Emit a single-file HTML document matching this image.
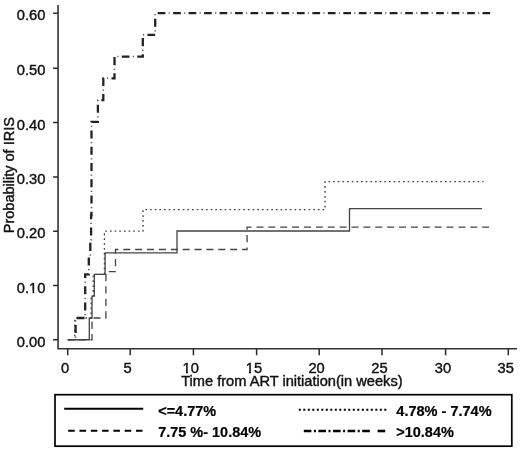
<!DOCTYPE html>
<html><head><meta charset="utf-8">
<title>Probability of IRIS</title>
<style>
html,body{margin:0;padding:0;background:#fff;}
body{width:520px;height:450px;overflow:hidden;}
svg{display:block;}
text{font-family:"Liberation Sans",Arial,sans-serif;fill:#111;}
.t{font-size:14px;stroke:#111;stroke-width:0.4px;}
.b{font-size:14.3px;font-weight:bold;fill:#000;stroke:#000;stroke-width:0.2px;}
</style></head><body>
<svg width="520" height="450" viewBox="0 0 520 450">
<rect width="520" height="450" fill="#fff"/>
<!-- axes -->
<g stroke="#333" stroke-width="1.6" fill="none" stroke-linejoin="round">
<path d="M58.05,4.9 V348.8 H517"/>
<path stroke="#2a2a2a" stroke-width="1.5" d="M53.1,13.3 H58 M53.1,68.2 H58 M53.1,122.6 H58 M53.1,176.9 H58 M53.1,231.2 H58 M53.1,285.6 H58 M53.1,339.7 H58"/>
<path stroke="#2a2a2a" stroke-width="1.5" d="M67.7,348.8 V355.2 M130.2,348.8 V355.2 M193.4,348.8 V355.2 M256.6,348.8 V355.2 M319.2,348.8 V355.2 M382.0,348.8 V355.2 M445.6,348.8 V355.2 M508.3,348.8 V355.2"/>
</g>
<!-- y labels -->
<g class="t">
<text transform="translate(45.4,20.40) scale(1.05,1)" text-anchor="end">0.60</text>
<text transform="translate(45.4,75.30) scale(1.05,1)" text-anchor="end">0.50</text>
<text transform="translate(45.4,129.70) scale(1.05,1)" text-anchor="end">0.40</text>
<text transform="translate(45.4,184.00) scale(1.05,1)" text-anchor="end">0.30</text>
<text transform="translate(45.4,238.30) scale(1.05,1)" text-anchor="end">0.20</text>
<text transform="translate(45.4,292.70) scale(1.05,1)" text-anchor="end">0.10</text>
<text transform="translate(45.4,346.80) scale(1.05,1)" text-anchor="end">0.00</text>
</g>
<!-- x labels -->
<g class="t">
<text transform="translate(65.10,373) scale(1.05,1)" text-anchor="middle">0</text>
<text transform="translate(127.60,373) scale(1.05,1)" text-anchor="middle">5</text>
<text transform="translate(190.80,373) scale(1.05,1)" text-anchor="middle">10</text>
<text transform="translate(254.00,373) scale(1.05,1)" text-anchor="middle">15</text>
<text transform="translate(316.60,373) scale(1.05,1)" text-anchor="middle">20</text>
<text transform="translate(379.40,373) scale(1.05,1)" text-anchor="middle">25</text>
<text transform="translate(443.00,373) scale(1.05,1)" text-anchor="middle">30</text>
<text transform="translate(505.70,373) scale(1.05,1)" text-anchor="middle">35</text>
</g>
<g fill="#fff"><rect x="181.6" y="370.7" width="4.4" height="3.2"/><rect x="188" y="370.7" width="2.4" height="3.2"/>
<rect x="245.4" y="370.7" width="3.6" height="3.2"/><rect x="251" y="370.7" width="3" height="3.2"/>
<rect x="28.7" y="290.7" width="3.8" height="3.2"/><rect x="34.3" y="290.7" width="2.7" height="3.2"/></g>
<text class="t" transform="translate(181.2,385.5) scale(1.045,1)">Time from ART initiation(in weeks)</text>
<text class="t" transform="translate(13.5,233.2) rotate(-90) scale(1.036,1)">Probability of IRIS</text>
<!-- curves -->
<g fill="none" stroke="#444" stroke-width="1.3">
<path d="M67.5,339.75 H89.3 V318 H92 V296.2 H94.3 V274.4 H105.1 V252.8 H177 V231 H349.5 V208.6 H482"/>
<path stroke-dasharray="0.00 0.96 1.70 2.96 1.72 3.11 1.79 3.11 1.79 3.11 1.79 3.11 1.78 3.04 1.70 2.96 1.70 2.96 1.70 2.96 1.73 3.11 1.79 3.11 1.79 3.11 1.79 3.11 1.78 3.03 1.76 3.11 1.78 3.11 1.79 3.11 1.79 3.11 1.78 3.01 1.70 2.96 1.70 2.96 1.79 3.11 1.78 3.11 1.78 3.11 1.79 3.11 1.78 3.11 1.78 3.11 1.78 3.11 1.78 3.11 1.78 3.06 1.70 2.96 1.70 2.96 1.70 2.96 1.70 2.96 1.70 2.96 1.70 2.96 1.70 2.96 1.70 2.96 1.76 3.11 1.78 3.11 1.78 3.11 1.78 3.11 1.78 2.99 1.70 2.96 1.70 2.96 1.70 2.96 1.70 2.96 1.70 2.96 1.70 2.96 1.70 2.96 1.70 2.96 1.70 2.96 1.70 2.96 1.70 2.96 1.70 2.96 1.70 2.96 1.70 2.96 1.70 2.96 1.70 2.96 1.70 2.96 1.70 2.96 1.70 2.96 1.70 2.96 1.70 2.96 1.70 2.96 1.70 2.96 1.70 2.96 1.70 2.96 1.70 2.96 1.70 2.96 1.70 2.96 1.70 2.96 1.70 2.96 1.70 2.96 1.70 2.96 1.70 2.96 1.70 2.96 1.70 2.96 1.70 2.96 1.70 2.96 1.70 2.96 1.70 3.07 1.78 3.11 1.78 3.11 1.78 3.11 1.78 3.11 1.78 3.11 1.76 2.96 1.70 2.96 1.70 2.96 1.70 2.96 1.70 2.96 1.70 2.96 1.70 2.96 1.70 2.96 1.70 2.96 1.70 2.96 1.70 2.96 1.70 2.96 1.70 2.96 1.70 2.96 1.70 2.96 1.70 2.96 1.70 2.96 1.70 2.96 1.70 2.96 1.70 2.96 1.70 2.96 1.70 2.96 1.70 2.96 1.70 2.96 1.70 2.96 1.70 2.96 1.70 2.96 1.70 2.96 1.70 2.96 1.70 2.96 1.70 2.96 1.70 2.96 1.70 2.96 1.70 2.96 6.30 0.01" d="M67.9,339.75 H74.8 V318 H91.1 V296.2 H93.2 V274.4 H104.4 V231.2 H143 V209.7 H325 V181.7 H483.5"/>
<path stroke-dasharray="5.79 4.88 7.00 4.88 7.27 5.12 7.35 5.05 7.00 4.88 7.32 5.12 7.35 5.12 7.35 5.12 7.35 4.98 7.02 5.12 7.35 5.12 7.20 4.88 7.00 4.88 7.00 4.88 7.00 4.88 7.00 4.88 7.00 4.88 7.00 4.88 7.00 4.88 7.00 4.88 7.00 4.88 7.00 4.88 7.10 5.12 7.35 5.12 7.12 4.88 7.00 4.88 7.00 4.88 7.00 4.88 7.00 4.88 7.00 4.88 7.00 4.88 7.00 4.88 7.00 4.88 7.00 4.88 7.00 4.88 7.00 4.88 7.00 4.88 7.00 4.88 7.00 4.88 7.00 4.88 7.00 4.88 7.00 4.88 7.00 4.88 7.00 4.88 11.78 0.01" d="M67.9,339.75 H92 V318 H105.9 V271.7 H115.5 V249.5 H247.1 V227.2 H489"/>
<path stroke="#222" stroke-width="2.3" stroke-dasharray="0.00 6.77 8.09 8.10 7.70 8.12 8.09 8.16 8.09 8.16 7.90 8.16 8.08 8.08 8.08 8.12 8.09 8.16 8.06 8.16 8.08 8.16 8.08 8.16 8.08 8.16 8.08 8.16 8.08 8.16 7.77 8.16 8.09 7.99 7.99 8.16 8.06 7.77 7.94 8.16 8.08 7.79 7.70 7.77 7.81 8.16 8.08 7.93 7.70 8.15 8.08 8.03 7.70 7.77 7.70 7.77 7.70 7.77 7.70 7.77 7.70 7.77 7.70 7.77 7.70 7.77 7.70 7.77 7.70 7.77 7.70 7.77 7.70 7.77 7.70 7.77 7.70 7.77 7.70 7.77 7.70 7.77 7.70 7.77 7.70 7.77 7.70 7.77 7.70 7.77 7.70 7.77 7.70 7.77 12.63 0.01" d="M75.6,339.75 V318 H85.2 V274.4 H88.8 V257 H90.3 V240 H91.1 V215 H91.5 V121.9 H97.9 V100.1 H103.3 V78.3 H114.5 V56.6 H142.8 V34.8 H155.2 V13.1 H490.2"/>
<path stroke="#555" stroke-width="1.5" stroke-dasharray="0.00 2.07 1.26 14.98 1.26 14.50 1.26 14.98 1.26 14.98 1.26 14.80 1.26 14.91 1.26 14.96 1.25 14.98 1.26 14.96 1.26 14.98 1.26 14.98 1.26 14.98 1.26 14.98 1.26 14.98 1.26 14.66 1.26 14.98 1.25 14.72 1.26 14.80 1.20 14.67 1.26 14.84 1.20 14.27 1.20 14.54 1.26 14.98 1.20 14.43 1.26 14.98 1.26 14.31 1.20 14.27 1.20 14.27 1.20 14.27 1.20 14.27 1.20 14.27 1.20 14.27 1.20 14.27 1.20 14.27 1.20 14.27 1.20 14.27 1.20 14.27 1.20 14.27 1.20 14.27 1.20 14.27 1.20 14.27 1.20 14.27 1.20 14.27 1.20 14.27 1.20 14.27 1.20 14.27 1.20 15.90" d="M75.6,339.75 V318 H85.2 V274.4 H88.8 V257 H90.3 V240 H91.1 V215 H91.5 V121.9 H97.9 V100.1 H103.3 V78.3 H114.5 V56.6 H142.8 V34.8 H155.2 V13.1 H490.2"/>
</g>
<!-- legend -->
<rect x="55" y="394.7" width="456.8" height="51.5" fill="#fff" stroke="#000" stroke-width="1.7"/>
<g fill="none" stroke="#000">
<path stroke-width="2" d="M64.2,408.8 H143.2"/>
<path stroke-width="2" stroke-dasharray="6.5 4.8" d="M68.2,430.7 H143.2"/>
<path stroke-width="2" stroke-dasharray="2 2.5" d="M298.8,409.8 H387"/>
<path stroke-width="2.6" stroke-dasharray="7.6 2.5 2 2.5" d="M303.8,431 H370"/>
<path stroke-width="2.6" d="M377.6,431 H385.2"/>
</g>
<text class="b" transform="translate(158.2,415.7) scale(1.012,1)">&lt;=4.77%</text>
<text class="b" transform="translate(158.2,437) scale(1.012,1)">7.75 %- 10.84%</text>
<text class="b" transform="translate(396.3,415.7) scale(1.017,1)">4.78% - 7.74%</text>
<text class="b" transform="translate(396.3,437) scale(1.012,1)">&gt;10.84%</text>
</svg>
</body></html>
